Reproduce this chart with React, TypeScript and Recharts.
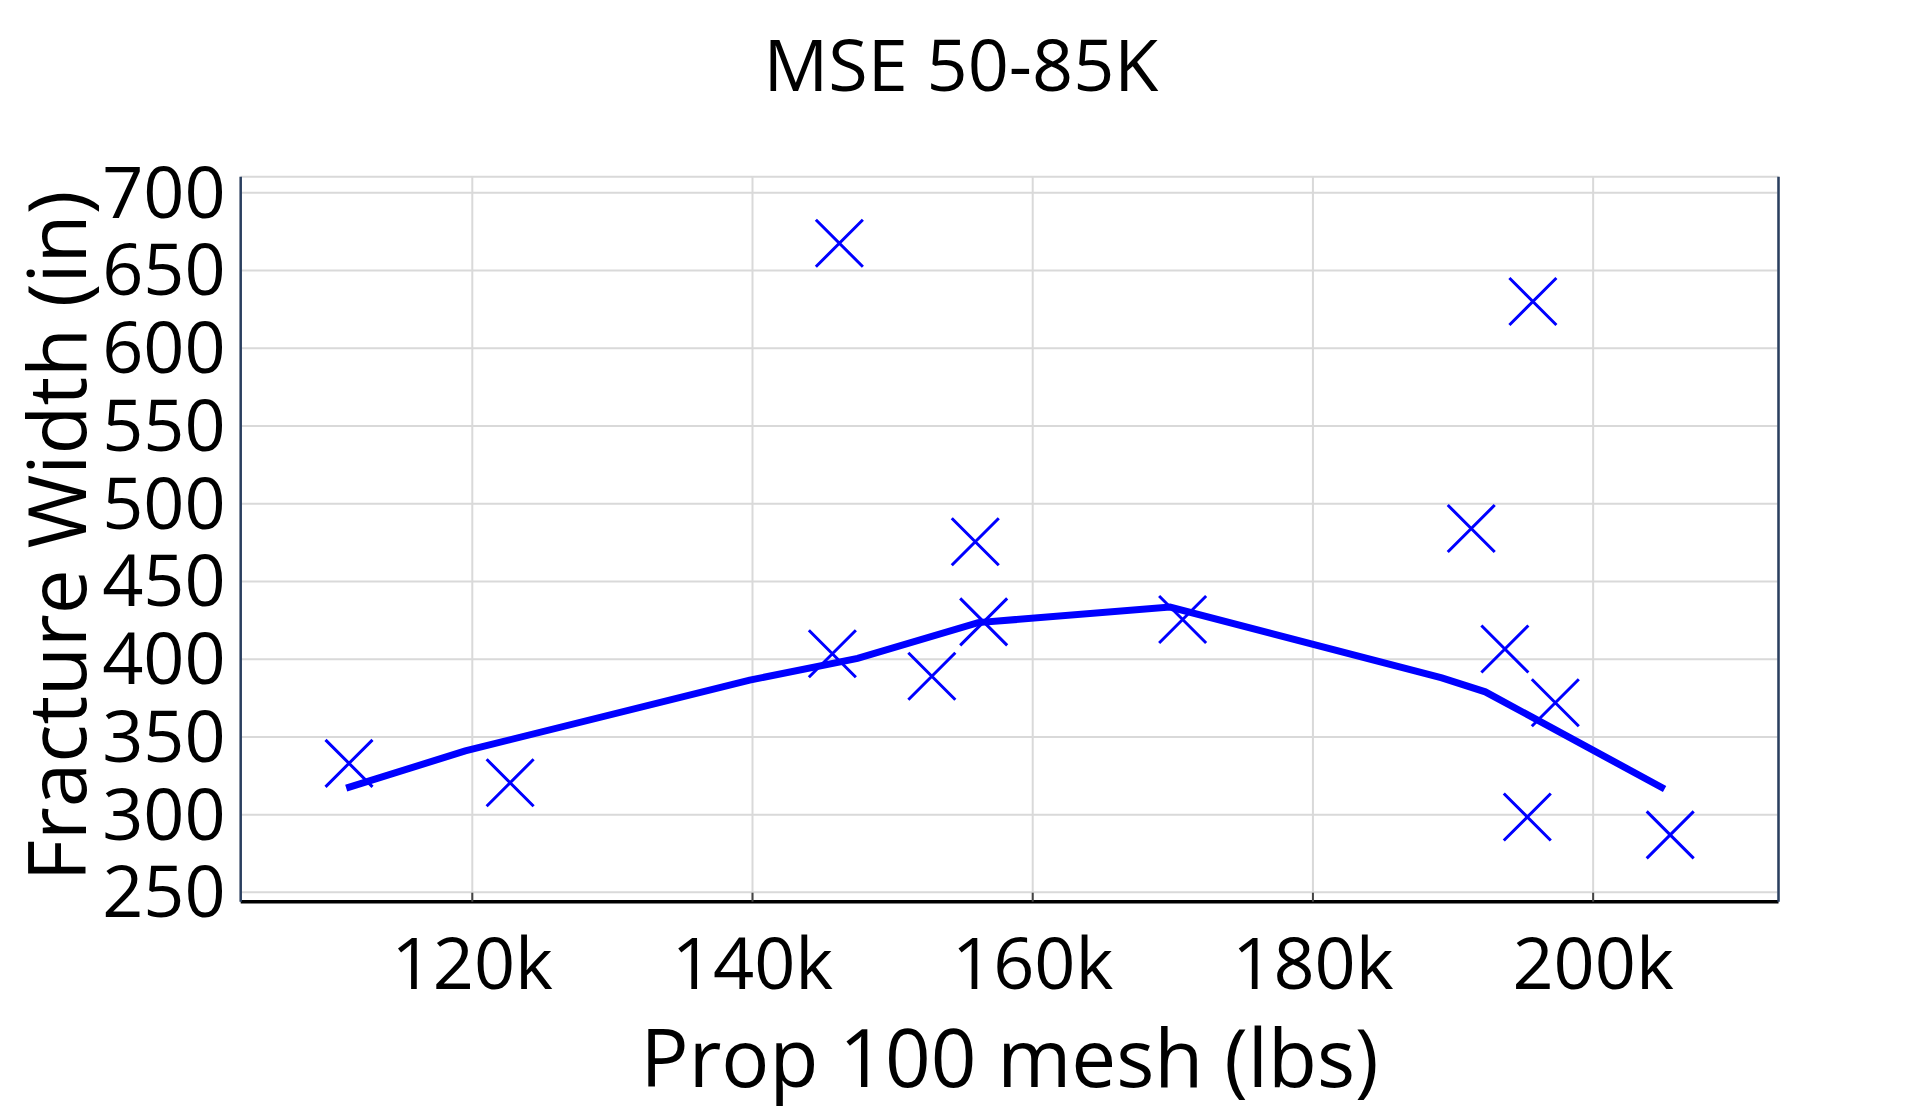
import React from "react";
import {
  ComposedChart,
  Scatter,
  Line,
  XAxis,
  YAxis,
  CartesianGrid,
  Label,
} from "recharts";

const FONT = "'Open Sans', 'Noto Sans', sans-serif";
const BLUE = "#0000ff";

// measured points (x = prop lbs, y = fracture width)
const sampleProp = [
  111200, 122700, 145700, 146200, 152800, 155900, 156500, 170700, 191300,
  193700, 195300, 195700, 197300, 205500,
];
const sampleWidth = [
  333, 320.5, 403.5, 667.5, 389, 475.5, 424, 425.5, 484, 406.5, 298.5, 630,
  372, 287,
];

// trend line
const trendProp = [
  111000, 119500, 139800, 147500, 156100, 169800, 189200, 192300, 205100,
];
const trendWidth = [317, 341, 386.5, 400.5, 423.5, 433.5, 388, 379, 316.5];

const xTicks = [120000, 140000, 160000, 180000, 200000];
const yTicks = [250, 300, 350, 400, 450, 500, 550, 600, 650, 700];

const xDomain = [103470, 213230];
const yDomain = [244, 710.3];

const scatterData = sampleProp.map((x, i) => ({ x, y: sampleWidth[i] }));
const trendData = trendProp.map((x, i) => ({ x, y: trendWidth[i] }));

const fmtK = (v: number) => `${Math.round(v / 1000)}k`;

const CrossMark = (props: any) => {
  const { cx, cy } = props;
  const h = 23.5;
  return (
    <path
      d={`M${cx - h},${cy - h}L${cx + h},${cy + h}M${cx - h},${cy + h}L${cx + h},${cy - h}`}
      stroke={BLUE}
      strokeWidth={3}
      fill="none"
    />
  );
};

const BottomTick = (props: any) => {
  const { x, y, payload } = props;
  return (
    <g>
      <line x1={x} x2={x} y1={y} y2={y - 9} stroke="#444" strokeWidth={2} />
      <text
        x={x}
        y={y + 87}
        textAnchor="middle"
        fontSize={72}
        fontFamily={FONT}
        fill="#000"
      >
        {fmtK(payload.value)}
      </text>
    </g>
  );
};

const TopTick = (props: any) => {
  const { x, y } = props;
  return <line x1={x} x2={x} y1={y} y2={y + 9} stroke="#444" strokeWidth={2} />;
};

const LeftTick = (props: any) => {
  const { x, y, payload } = props;
  return (
    <text
      x={x - 15}
      y={y + 25}
      textAnchor="end"
      fontSize={72}
      fontFamily={FONT}
      fill="#000"
    >
      {payload.value}
    </text>
  );
};

export default function App() {
  return (
    <div
      style={{
        position: "absolute",
        left: 0,
        top: 0,
        width: 1920,
        height: 1113,
        background: "#fff",
        fontFamily: FONT,
      }}
    >
      <div
        style={{
          position: "absolute",
          left: 0,
          top: 27,
          width: 1922,
          textAlign: "center",
          fontSize: 72,
          lineHeight: "72px",
          color: "#000",
        }}
      >
        MSE 50-85K
      </div>
      <ComposedChart
        width={1920}
        height={1113}
        margin={{ top: 176.7, right: 0, bottom: 0, left: 0 }}
      >
        <CartesianGrid stroke="#d9d9d9" strokeWidth={2} />
        <XAxis
          dataKey="x"
          type="number"
          domain={xDomain}
          ticks={xTicks}
          allowDataOverflow
          height={211.3}
          axisLine={{ stroke: "#000", strokeWidth: 3.5 }}
          tickLine={false}
          tickSize={0}
          tickMargin={0}
          tick={<BottomTick />}
        >
          <Label
            content={(p: any) => {
              const vb = p.viewBox;
              return (
                <text
                  x={vb.x + vb.width / 2}
                  y={vb.y + 185}
                  textAnchor="middle"
                  fontSize={80}
                  fontFamily={FONT}
                  fill="#000"
                >
                  Prop 100 mesh (lbs)
                </text>
              );
            }}
          />
        </XAxis>
        <XAxis
          xAxisId="top"
          orientation="top"
          dataKey="x"
          type="number"
          domain={xDomain}
          ticks={xTicks}
          allowDataOverflow
          height={0}
          axisLine={{ stroke: "#000", strokeWidth: 3.5 }}
          tickLine={false}
          tickSize={0}
          tickMargin={0}
          tick={<TopTick />}
        />
        <YAxis
          dataKey="y"
          type="number"
          domain={yDomain}
          ticks={yTicks}
          allowDataOverflow
          width={240.7}
          axisLine={{ stroke: "#2a3f5f", strokeWidth: 2.5 }}
          tickLine={false}
          tickSize={0}
          tickMargin={0}
          tick={<LeftTick />}
        >
          <Label
            content={() => {
              const cx = 86;
              const cy = 536;
              return (
                <text
                  x={cx}
                  y={cy}
                  transform={`rotate(-90, ${cx}, ${cy})`}
                  textAnchor="middle"
                  fontSize={80}
                  fontFamily={FONT}
                  fill="#000"
                >
                  Fracture Width (in)
                </text>
              );
            }}
          />
        </YAxis>
        <YAxis
          yAxisId="right"
          orientation="right"
          type="number"
          domain={yDomain}
          allowDataOverflow
          width={141.5}
          axisLine={{ stroke: "#2a3f5f", strokeWidth: 2.5 }}
          tick={false}
          tickLine={false}
        />
        <Line
          data={trendData}
          dataKey="y"
          type="linear"
          stroke={BLUE}
          strokeWidth={7}
          dot={false}
          activeDot={false}
          isAnimationActive={false}
        />
        <Scatter
          data={scatterData}
          dataKey="y"
          shape={<CrossMark />}
          isAnimationActive={false}
        />
      </ComposedChart>
    </div>
  );
}
